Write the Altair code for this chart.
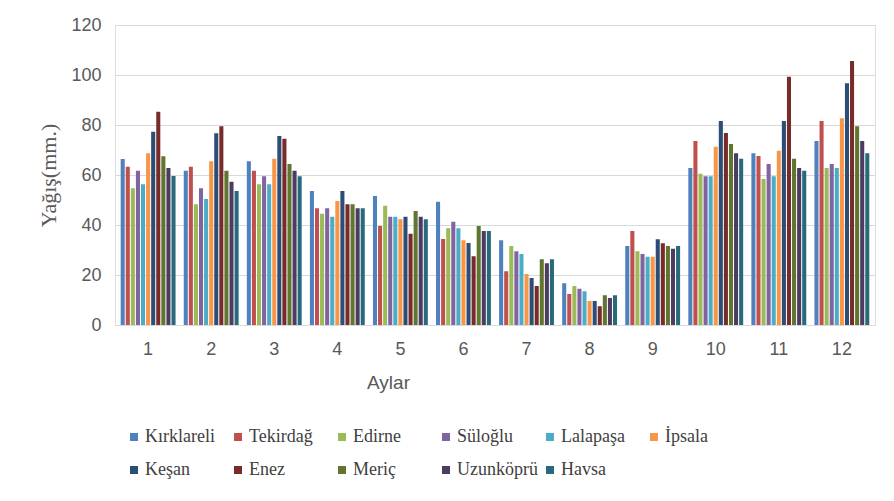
import altair as alt
import pandas as pd

months = ["1", "2", "3", "4", "5", "6", "7", "8", "9", "10", "11", "12"]
stations = ["Kırklareli", "Tekirdağ", "Edirne", "Süloğlu", "Lalapaşa", "İpsala",
            "Keşan", "Enez", "Meriç", "Uzunköprü", "Havsa"]
colors = ["#4F81BD", "#C0504D", "#9BBB59", "#8064A2", "#4BACC6", "#F79646",
          "#2C4D75", "#772C2A", "#5F7530", "#4D3B62", "#276A7C"]

kirklareli = [66.4, 61.7, 65.5, 53.6, 51.6, 49.3, 33.9, 16.7, 31.6, 62.8, 68.7, 73.6]
tekirdag   = [63.3, 63.3, 61.7, 46.7, 39.6, 34.4, 21.5, 12.4, 37.6, 73.6, 67.6, 81.6]
edirne     = [54.7, 48.3, 56.3, 44.5, 47.7, 38.7, 31.6, 15.6, 29.5, 60.5, 58.4, 62.8]
suloglu    = [61.7, 54.7, 59.5, 46.7, 43.3, 41.3, 29.5, 14.5, 28.4, 59.5, 64.4, 64.4]
lalapasa   = [56.3, 50.4, 56.3, 43.3, 43.3, 38.7, 28.4, 13.5, 27.3, 59.5, 59.5, 62.8]
ipsala     = [68.7, 65.5, 66.5, 49.6, 42.3, 33.9, 20.4, 9.6, 27.3, 71.3, 69.7, 82.7]
kesan      = [77.3, 76.7, 75.6, 53.6, 43.3, 32.8, 18.8, 9.6, 34.3, 81.6, 81.6, 96.7]
enez       = [85.3, 79.5, 74.5, 48.3, 36.5, 27.5, 15.6, 7.5, 32.7, 76.8, 99.3, 105.6]
meric      = [67.5, 61.7, 64.4, 48.3, 45.6, 39.6, 26.3, 11.9, 31.6, 72.4, 66.5, 79.5]
uzunkopru  = [62.8, 57.3, 61.7, 46.7, 43.3, 37.6, 24.7, 10.8, 30.5, 68.7, 62.8, 73.6]
havsa      = [59.6, 53.6, 59.5, 46.7, 42.3, 37.6, 26.3, 11.9, 31.6, 66.5, 61.7, 68.7]

series = [kirklareli, tekirdag, edirne, suloglu, lalapasa, ipsala,
          kesan, enez, meric, uzunkopru, havsa]

rows = []
for st, vals in zip(stations, series):
    for m, v in zip(months, vals):
        rows.append({"Ay": m, "Istasyon": st, "Yagis": v})
df = pd.DataFrame(rows)

chart = alt.Chart(df).mark_bar().encode(
    x=alt.X("Ay:N", sort=months,
            scale=alt.Scale(paddingInner=0.13, paddingOuter=0.09),
            axis=alt.Axis(title="Aylar", labelAngle=0, ticks=False, grid=False,
                          domain=True, domainColor="#D9D9D9", domainWidth=1,
                          labelFont="Liberation Sans", labelFontSize=18,
                          labelColor="#595959", labelPadding=15,
                          titleFont="Liberation Sans", titleFontSize=19,
                          titleFontWeight="normal", titleColor="#595959",
                          titleX=273, titleY=57, titleBaseline="middle",
                          titleAlign="center")),
    xOffset=alt.XOffset("Istasyon:N", sort=stations,
                        scale=alt.Scale(paddingInner=0.2, paddingOuter=0)),
    y=alt.Y("Yagis:Q",
            scale=alt.Scale(domain=[0, 120], nice=False),
            axis=alt.Axis(title="Yağış(mm.)", values=[0, 20, 40, 60, 80, 100, 120],
                          ticks=False, domain=False, grid=True,
                          gridColor="#D9D9D9", gridWidth=1,
                          labelFont="Liberation Sans", labelFontSize=18,
                          labelColor="#595959", labelPadding=14,
                          titleFont="Liberation Serif", titleFontSize=22,
                          titleFontWeight="normal", titleColor="#595959",
                          titleX=-67, titleY=150, titleAngle=270,
                          titleBaseline="middle", titleAlign="center")),
    color=alt.Color("Istasyon:N", sort=stations,
                    scale=alt.Scale(domain=stations, range=colors),
                    legend=alt.Legend(title=None, orient="none", legendX=10, legendY=403,
                                      direction="horizontal", columns=6,
                                      gridAlign="all", columnPadding=3,
                                      rowPadding=15, symbolType="square",
                                      symbolSize=64, symbolStrokeWidth=0,
                                      labelFont="Liberation Serif", labelFontSize=18,
                                      labelFontWeight="normal",
                                      labelColor="#404040", labelOffset=2,
                                      labelLimit=200)),
).properties(
    width=760, height=300,
    autosize=alt.AutoSizeParams(type="none"),
    padding={"left": 107, "top": 17, "right": 11, "bottom": 158},
).configure_view(stroke=None).configure(background="white")

chart.save("out.html", embed_options={"renderer": "svg", "actions": False})
